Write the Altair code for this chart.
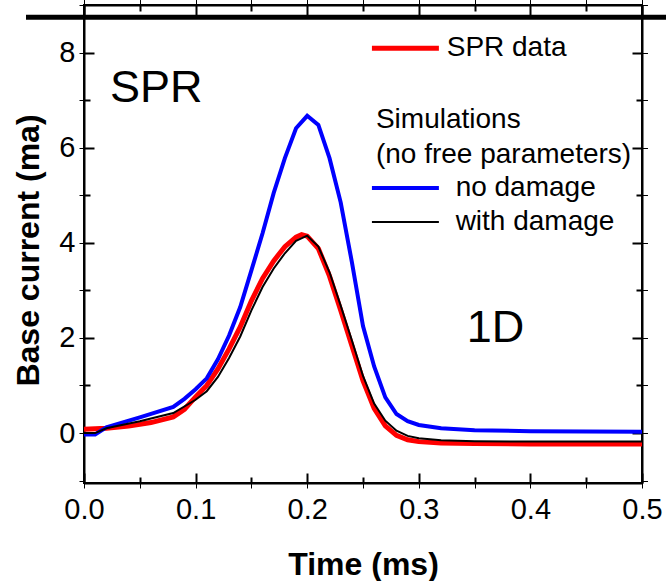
import altair as alt
import pandas as pd

# ---------------- data ----------------
time_red = [0.0, 0.02, 0.04, 0.06, 0.08, 0.09, 0.10, 0.11, 0.12, 0.13, 0.14, 0.15,
            0.16, 0.17, 0.18, 0.19, 0.195, 0.20, 0.21, 0.22, 0.23, 0.24, 0.25, 0.26,
            0.27, 0.28, 0.29, 0.30, 0.32, 0.35, 0.40, 0.45, 0.50]
spr_data = [0.08, 0.10, 0.15, 0.22, 0.34, 0.50, 0.76, 1.00, 1.35, 1.77, 2.23, 2.78,
            3.25, 3.62, 3.92, 4.12, 4.17, 4.14, 3.88, 3.30, 2.58, 1.84, 1.10, 0.52,
            0.15, -0.05, -0.14, -0.18, -0.21, -0.22, -0.23, -0.23, -0.23]

time_blue = [0.0, 0.01, 0.02, 0.05, 0.08, 0.09, 0.10, 0.11, 0.12, 0.13, 0.14, 0.15,
             0.16, 0.17, 0.18, 0.19, 0.20, 0.21, 0.22, 0.23, 0.24, 0.25, 0.26, 0.27,
             0.28, 0.29, 0.30, 0.32, 0.35, 0.40, 0.50]
no_damage = [-0.03, -0.03, 0.12, 0.33, 0.55, 0.72, 0.92, 1.15, 1.55, 2.05, 2.65, 3.42,
             4.20, 5.05, 5.78, 6.41, 6.67, 6.48, 5.78, 4.85, 3.60, 2.25, 1.40, 0.75,
             0.40, 0.25, 0.17, 0.10, 0.06, 0.04, 0.03]

time_black = [0.0, 0.01, 0.02, 0.05, 0.08, 0.10, 0.11, 0.12, 0.13, 0.14, 0.15, 0.16,
              0.17, 0.18, 0.19, 0.20, 0.21, 0.22, 0.23, 0.24, 0.25, 0.26, 0.27, 0.28,
              0.29, 0.30, 0.32, 0.35, 0.40, 0.50]
with_damage = [0.0, 0.0, 0.10, 0.25, 0.42, 0.70, 0.88, 1.18, 1.58, 2.03, 2.58, 3.07,
               3.46, 3.78, 4.04, 4.15, 3.92, 3.38, 2.68, 1.95, 1.20, 0.62, 0.26, 0.05,
               -0.06, -0.11, -0.15, -0.17, -0.18, -0.18]

x_major = [0.0, 0.1, 0.2, 0.3, 0.4, 0.5]
x_minor = [0.05, 0.15, 0.25, 0.35, 0.45]
y_major = [0, 2, 4, 6, 8]
y_minor = [1, 3, 5, 7]

legend_labels = ["SPR data", "no damage", "with damage"]
legend_colors = ["#ff0000", "#0000ff", "#000000"]

# ---------------- layout ----------------
W, H = 558, 478
XD = [0.0, 0.5]
YD = [-1.05, 9.0]
FONT = "Liberation Sans"
MAJ, MIN = 10, 6

xs = alt.Scale(domain=XD, nice=False, zero=False)
ys = alt.Scale(domain=YD, nice=False, zero=False)

df_red = pd.DataFrame({"t": time_red, "v": spr_data})
df_blue = pd.DataFrame({"t": time_blue, "v": no_damage})
df_black = pd.DataFrame({"t": time_black, "v": with_damage})

x_enc = alt.X("t:Q", scale=xs, axis=alt.Axis(
    orient="bottom", values=x_major, format=".1f", ticks=False, tickSize=0,
    domain=True, domainColor="black", domainWidth=2, grid=False,
    labelFlush=False, labelOverlap=False,
    labelFont=FONT, labelFontSize=29, labelPadding=12, labelColor="black",
    title="Time (ms)", titleFont=FONT, titleFontSize=32, titleFontWeight="bold",
    titleColor="black", titleX=W / 2, titleY=81, titleBaseline="middle"))
y_enc = alt.Y("v:Q", scale=ys, axis=alt.Axis(
    orient="left", values=y_major, format="d", ticks=False, tickSize=0,
    domain=True, domainColor="black", domainWidth=2, grid=False,
    labelFlush=False, labelOverlap=False,
    labelFont=FONT, labelFontSize=29, labelPadding=9, labelColor="black",
    title="Base current (ma)", titleFont=FONT, titleFontSize=32, titleFontWeight="bold",
    titleColor="black", titleAngle=270, titleX=-56, titleY=245,
    titleBaseline="middle", titleAlign="center"))


def hidden_axis():
    # frame-only axis: keep line and ticks, hide its own labels and title
    return alt.Axis(labelOpacity=0, titleOpacity=0, grid=False,
                    domainColor="#000000", tickColor="#000000")


def nx(field):
    return alt.X(field, axis=hidden_axis())


def ny(field):
    return alt.Y(field, axis=hidden_axis())


red = alt.Chart(df_red).mark_line(color="#ff0000", strokeWidth=5).encode(x=x_enc, y=y_enc)
blue = alt.Chart(df_blue).mark_line(color="#0000ff", strokeWidth=4).encode(x=nx("t:Q"), y=ny("v:Q"))
black = alt.Chart(df_black).mark_line(color="#000000", strokeWidth=2).encode(x=nx("t:Q"), y=ny("v:Q"))


def frame_axis(orient, vals, size, offset, domain):
    return alt.Axis(orient=orient, values=vals, labels=False, title=None, grid=False,
                    ticks=size > 0, tickSize=size, tickColor="black", tickWidth=2,
                    offset=offset, domain=domain, domainColor="black", domainWidth=2)


def carrier(xa, ya):
    # invisible carrier layer that only hosts frame axes
    return alt.Chart(df_red).mark_line(opacity=0).encode(
        x=alt.X("t:Q", axis=xa), y=alt.Y("v:Q", axis=ya))


frame_layers = [
    carrier(frame_axis("bottom", x_major, MAJ, -MAJ, False), frame_axis("left", y_major, MAJ, -MAJ, False)),
    carrier(frame_axis("bottom", x_minor, MIN, -MIN, False), frame_axis("left", y_minor, MIN, -MIN, False)),
    carrier(frame_axis("top", x_major, MAJ, -MAJ, False), frame_axis("right", y_major, MAJ, -MAJ, False)),
    carrier(frame_axis("top", x_minor, MIN, -MIN, False), frame_axis("right", y_minor, MIN, -MIN, False)),
    carrier(frame_axis("top", x_major, 0, 0, True), frame_axis("right", y_major, 0, 0, True)),
]

# thick horizontal bar near the top
topbar = alt.Chart(pd.DataFrame({"yy": [8.74]})).mark_rule(color="black", strokeWidth=5).encode(
    x=alt.value(-58), x2=alt.value(W + 24), y=ny("yy:Q"))

# legend
leg = pd.DataFrame({
    "label": legend_labels,
    "color": legend_colors,
    "w": [5, 4, 2],
    "x1": [0.258, 0.258, 0.258],
    "x2": [0.318, 0.318, 0.318],
    "lx": [0.325, 0.333, 0.333],
    "ly": [8.09, 5.15, 4.44],
})
leg_lines = alt.Chart(leg).mark_rule().encode(
    x=nx("x1:Q"), x2="x2:Q", y=ny("ly:Q"),
    color=alt.Color("color:N", scale=None),
    strokeWidth=alt.StrokeWidth("w:Q", scale=None))
leg_text = alt.Chart(leg).mark_text(align="left", baseline="middle", font=FONT,
                                    fontSize=28, color="black").encode(
    x=nx("lx:Q"), y=ny("ly:Q"), text="label:N")

notes = pd.DataFrame({
    "text": ["Simulations", "(no free parameters)"],
    "nx": [0.2616, 0.2616],
    "ny": [6.58, 5.85],
})
notes_text = alt.Chart(notes).mark_text(align="left", baseline="middle", font=FONT,
                                        fontSize=28, color="black").encode(
    x=nx("nx:Q"), y=ny("ny:Q"), text="text:N")

big = pd.DataFrame({"text": ["SPR", "1D"], "bx": [0.0233, 0.343], "by": [7.25, 2.2]})
big_text = alt.Chart(big).mark_text(align="left", baseline="middle", font=FONT,
                                    fontSize=45, color="black").encode(
    x=nx("bx:Q"), y=ny("by:Q"), text="text:N")

chart = alt.layer(red, *frame_layers, blue, black, topbar,
                  leg_lines, leg_text, notes_text, big_text).resolve_axis(
    x="independent", y="independent"
).properties(
    width=W, height=H,
    padding={"left": 84, "top": 5, "right": 24, "bottom": 98},
    autosize=alt.AutoSizeParams(type="none"),
    background="white",
).configure_view(stroke="black", strokeWidth=2)

chart.save("out.html", embed_options={"renderer": "svg", "actions": False})
